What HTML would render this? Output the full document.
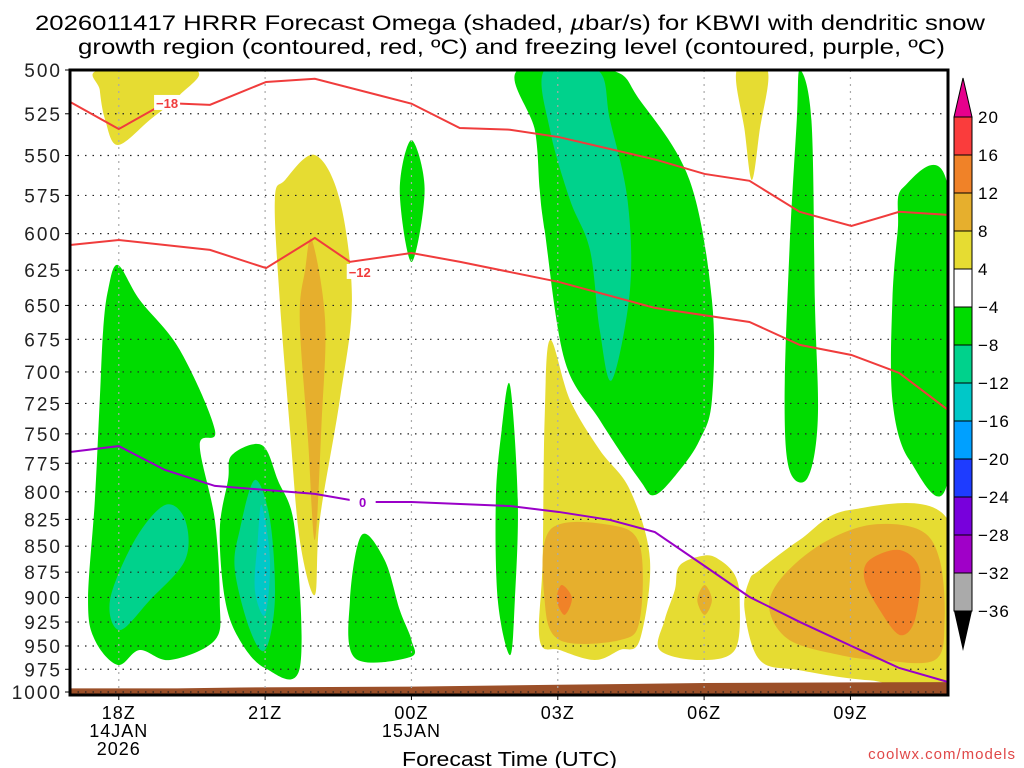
<!DOCTYPE html>
<html><head><meta charset="utf-8"><style>
body{margin:0;background:#fff;width:1024px;height:768px;overflow:hidden}
svg{display:block;font-family:"Liberation Sans",sans-serif}
</style></head><body>
<svg id="c" width="1024" height="768">
<text x="35" y="30" font-size="21" textLength="950" lengthAdjust="spacingAndGlyphs">2026011417 HRRR Forecast Omega (shaded, <tspan font-style="italic">µ</tspan>bar/s) for KBWI with dendritic snow</text>
<text x="78" y="54" font-size="21" textLength="867" lengthAdjust="spacingAndGlyphs">growth region (contoured, red, ºC) and freezing level (contoured, purple, ºC)</text>
<g id="fills"></g><g id="grid"></g><g id="lines"></g><g id="axes"></g><g id="cbar"></g>
<text x="402" y="766" font-size="20" textLength="215" lengthAdjust="spacingAndGlyphs">Forecast Time (UTC)</text>
<text x="1016" y="759" font-size="15" fill="#e04848" text-anchor="end" letter-spacing="1">coolwx.com/models</text>
</svg>
<script>
const pressureTicks=[500,525,550,575,600,625,650,675,700,725,750,775,800,825,850,875,900,925,950,975,1000];
const timeTicks=[18,21,24,27,30,33];
const timeLabels=[["18Z","14JAN","2026"],["21Z"],["00Z","15JAN"],["03Z"],["06Z"],["09Z"]];
const cbarLevels=["20","16","12","8","4","-4","-8","-12","-16","-20","-24","-28","-32","-36"];
const cbarColors=["#fa3c3c","#f08228","#e6af2d","#e6dc32","#ffffff","#00dc00","#00d28c","#00c8c8","#00a0ff","#1e3cff","#7800dc","#a000c8","#aaaaaa"];
const surfHours=[17,19.2,20.5,24,27,30,35];
const surfP=[996,996,995,994,992,990,989];
const dgzHours18=[17,18,18.95,19.87,21.02,22.02,24,24.99,26.02,27.02,29,30.01,30.93,31.96,33.02,34,35];
const dgzP18=[518.1,534.0,518.7,519.8,506.7,504.9,519.1,533.4,534.4,538.8,552.5,561.4,565.7,585.6,594.9,585.6,587.6];
const dgzHours12=[17,18,19.87,21.02,22.02,22.74,24,25,27.02,28.99,30.93,31.96,33.02,34,35];
const dgzP12=[607.7,604.3,611.0,623.5,602.9,619.2,613.1,619.2,633.2,651.8,662.1,679.2,686.9,700.8,730.3];
const frzHours=[17,18,18.95,19.97,22.02,22.98,24,26.02,27.02,28.07,28.99,30.01,30.93,31.96,33.02,34,35];
const frzP=[765.3,760.3,780.8,794.8,801.9,809.2,809.2,812.8,818.2,825.5,836.7,869.0,899.5,924.9,950.0,973.6,988.9];
// shaded omega regions: [level, [[hour,pressure],...]]
const regions=[
["y",[[17.61,500],[19.56,500],[19.25,514.1],[18.64,528.5],[17.98,543.6],[17.72,528.5],[17.61,511.2]]],
["g",[[17.98,621.4],[18.43,646.1],[19.25,683.0],[19.97,746.8],[19.66,759.4],[19.97,825.6],[20.07,902.6],[19.97,943.8],[19.05,965.0],[18.43,954.3],[17.98,970.3],[17.51,943.8],[17.37,902.6],[17.51,807.4],[17.61,722.3],[17.68,668.0],[17.78,639.0]]],
["t",[[17.82,902.6],[18.33,844.1],[18.95,811.9],[19.36,825.5],[19.36,863.2],[18.64,902.6],[18.02,933.3]]],
["g",[[20.32,767.9],[20.93,759.4],[21.26,789.6],[21.61,834.8],[21.71,973.8],[21.0,973.8],[20.48,943.8],[20.18,902.6],[20.07,834.8],[20.24,789.6]]],
["t",[[20.79,789.6],[21.1,825.5],[21.2,902.6],[21.0,954.3],[20.69,933.3],[20.38,872.9],[20.48,834.8]]],
["c",[[20.93,811.9],[21.1,863.2],[21.0,917.7],[20.79,892.5],[20.85,844.1]]],
["y",[[22.02,549.7],[22.53,577.9],[22.78,646.1],[22.53,722.3],[22.12,825.6],[22.02,897.6],[21.71,844.1],[21.51,746.8],[21.3,646.1],[21.2,577.9],[21.41,565.2]]],
["o2",[[21.96,604.3],[22.23,660.7],[22.16,738.5],[22.02,844.1],[21.88,755.1],[21.71,660.7],[21.82,624.9]]],
["g",[[24,540.6],[24.27,571.6],[24,619.3],[23.76,571.6]]],
["g",[[22.98,839.5],[23.45,863.2],[23.76,912.7],[24,943.8],[23.97,961.9],[22.84,962.8],[22.74,902.6]]],
["g",[[26.02,710.3],[26.18,807.4],[26.12,902.6],[26.02,959.8],[25.77,902.6],[25.73,807.4],[25.85,746.8]]],
["g",[[26.18,500],[28.07,500],[28.68,517.0],[29.7,565.2],[30.16,646.1],[30.16,722.3],[29.91,755.1],[29.5,780.9],[28.99,802.9],[28.68,789.6],[27.86,738.5],[27.14,690.8],[26.73,597.6],[26.63,571.6],[26.53,534.6]]],
["t",[[26.73,500],[27.82,500],[28.07,528.7],[28.43,577.9],[28.48,639.0],[28.11,706.3],[27.86,668.0],[27.66,611.1],[27.25,577.9],[26.84,534.6]]],
["y",[[26.84,675.5],[27.25,722.3],[27.86,763.6],[28.48,798.4],[28.89,863.2],[28.68,943.8],[28.27,954.3],[27.76,965.0],[27.04,954.3],[26.63,943.8],[26.69,863.2],[26.73,738.5]]],
["o2",[[26.84,834.8],[28.07,830.2],[28.68,848.9],[28.68,923.0],[28.27,943.8],[27.04,943.8],[26.73,902.6]]],
["o",[[27.08,887.6],[27.29,900.6],[27.14,917.7],[26.98,902.6]]],
["y",[[29.5,868.5],[30.01,858.9],[30.32,863.2],[30.63,877.8],[30.73,902.6],[30.63,954.3],[29.91,965.0],[29.09,954.3],[29.19,923.0],[29.4,892.5]]],
["o2",[[30.01,887.6],[30.16,902.6],[30.01,917.7],[29.86,902.6]]],
["y",[[31.14,872.9],[31.96,844.1],[32.98,816.4],[35,825.6],[35,987.0],[33.39,987.0],[31.96,976.0],[31.14,965.0],[30.83,912.7],[30.93,882.7]]],
["o2",[[31.55,882.7],[32.37,848.9],[33.39,830.2],[34.42,834.8],[34.83,863.2],[34.93,923.0],[34.73,965.0],[33.6,965.0],[32.78,959.6],[31.75,943.8],[31.34,912.7]]],
["o",[[33.39,863.2],[34.01,853.6],[34.42,872.9],[34.32,923.0],[34.01,938.4],[33.6,912.7],[33.29,882.7]]],
["y",[[30.67,500],[31.3,500],[31.14,534.6],[30.98,565.2],[30.83,534.6]]],
["g",[[31.96,500],[32.2,528.7],[32.27,646.1],[32.33,738.5],[32.12,787.8],[31.75,780.9],[31.65,722.3],[31.75,611.1],[31.9,528.7]]],
["g",[[34.07,570.3],[35,570.3],[35,787.8],[34.21,772.2],[33.86,722.3],[33.86,646.1],[33.97,597.6]]]
];
const levelColor={g:"#00dc00",t:"#00d28c",c:"#00c8c8",y:"#e6dc32",o2:"#e6af2d",o:"#f08228"};
const X0=70,X1=948,Y0=70,Y1=692,H0=17,H1=35,P0=500,P1=1000;
const xs=h=>X0+(h-H0)*(X1-X0)/(H1-H0);
const ys=p=>Y0+Math.log(p/P0)/Math.log(P1/P0)*(Y1-Y0);
const NS="http://www.w3.org/2000/svg";
function mk(tag,attrs,parent){const e=document.createElementNS(NS,tag);for(const k in attrs)e.setAttribute(k,attrs[k]);parent.appendChild(e);return e;}
function smoothClosed(pts){const n=pts.length;let d=`M${pts[0][0]},${pts[0][1]}`;
for(let i=0;i<n;i++){const p0=pts[(i-1+n)%n],p1=pts[i],p2=pts[(i+1)%n],p3=pts[(i+2)%n];
const c1=[p1[0]+(p2[0]-p0[0])/6,p1[1]+(p2[1]-p0[1])/6],c2=[p2[0]-(p3[0]-p1[0])/6,p2[1]-(p3[1]-p1[1])/6];
d+=`C${c1[0]},${c1[1]} ${c2[0]},${c2[1]} ${p2[0]},${p2[1]}`;}return d+"Z";}
const fills=document.getElementById("fills");
const clip=mk("clipPath",{id:"pc"},mk("defs",{},fills));mk("rect",{x:X0,y:Y0,width:X1-X0,height:Y1-Y0},clip);
const fg=mk("g",{"clip-path":"url(#pc)"},fills);
regions.forEach(r=>{const pts=r[1].map(q=>[xs(q[0]),ys(q[1])]);
const el=mk("path",{d:smoothClosed(pts),fill:levelColor[r[0]]},fg);

});
let td=`M${xs(H0)},${ys(P1)+4}`;surfHours.forEach((h,i)=>{td+=`L${xs(h)},${ys(surfP[i])}`;});td+=`L${xs(H1)},${ys(surfP[surfP.length-1])}L${xs(H1)},${ys(P1)+4}Z`;
const terr=mk("path",{d:td,fill:"#9b4f28"},fills);


const grid=document.getElementById("grid");
pressureTicks.forEach(p=>{const l=mk("line",{x1:X0,x2:X1,y1:ys(p),y2:ys(p),stroke:"#222","stroke-dasharray":"1.5 6","stroke-width":1.2},grid);

});
timeTicks.forEach(h=>{const l=mk("line",{x1:xs(h),x2:xs(h),y1:Y0,y2:Y1,stroke:"#aaa","stroke-dasharray":"2 5","stroke-width":1.2},grid);

});
const lines=document.getElementById("lines");
function poly(hs,ps,col,name){const pts=hs.map((h,i)=>`${xs(h)},${ys(ps[i])}`).join(" ");
const l=mk("polyline",{points:pts,fill:"none",stroke:col,"stroke-width":2},lines);

}
poly(dgzHours18,dgzP18,"#f03c3c","isotherm-minus18");
poly(dgzHours12,dgzP12,"#f03c3c","isotherm-minus12");
poly(frzHours,frzP,"#9a00c8","freezing-level-line");
function lab(h,p,t,col,name){mk("rect",{x:xs(h)-13,y:ys(p)-8,width:26,height:15,fill:"#fff"},lines);
const e=mk("text",{x:xs(h),y:ys(p)+5,"font-size":13,"font-weight":"bold",fill:col,"text-anchor":"middle"},lines);e.textContent=t;

}
lab(18.99,518.7,"−18","#f03c3c","label-minus18");
lab(22.94,626.2,"−12","#f03c3c","label-minus12");
lab(23.0,809.2,"0","#9a00c8","label-zero");
const ax=document.getElementById("axes");
const fr=mk("rect",{x:X0,y:Y0,width:X1-X0,height:Y1-Y0+3,fill:"none",stroke:"#000","stroke-width":3},ax);


pressureTicks.forEach(p=>{mk("line",{x1:X0-5,x2:X0,y1:ys(p),y2:ys(p),stroke:"#000"},ax);
const t=mk("text",{x:X0-8,y:ys(p)+7,"font-size":19,"text-anchor":"end",fill:"#222","letter-spacing":"2"},ax);t.textContent=p;

});
timeTicks.forEach((h,i)=>{mk("line",{x1:xs(h),x2:xs(h),y1:Y1+3,y2:Y1+8,stroke:"#000"},ax);
timeLabels[i].forEach((s,j)=>{const t=mk("text",{x:xs(h),y:Y1+27+j*18,"font-size":18,"text-anchor":"middle","letter-spacing":"1"},ax);t.textContent=s;

});});
const cb=document.getElementById("cbar");const bx=954,bw=18,bt=117,step=38;
mk("polygon",{points:`${bx},${bt} ${bx+bw},${bt} ${bx+bw/2},${bt-39}`,fill:"#e6008c",stroke:"#000"},cb);
cbarColors.forEach((c,i)=>{const r=mk("rect",{x:bx,y:bt+i*step,width:bw,height:step,fill:c,stroke:"#000"},cb);

});
const be=bt+cbarColors.length*step;
mk("polygon",{points:`${bx},${be} ${bx+bw},${be} ${bx+bw/2},${be+40}`,fill:"#000"},cb);
cbarLevels.forEach((s,i)=>{const t=mk("text",{x:bx+bw+6,y:bt+i*step+6,"font-size":17,"letter-spacing":"1"},cb);t.textContent=s.replace("-","−");

});
</script>
</body></html>
